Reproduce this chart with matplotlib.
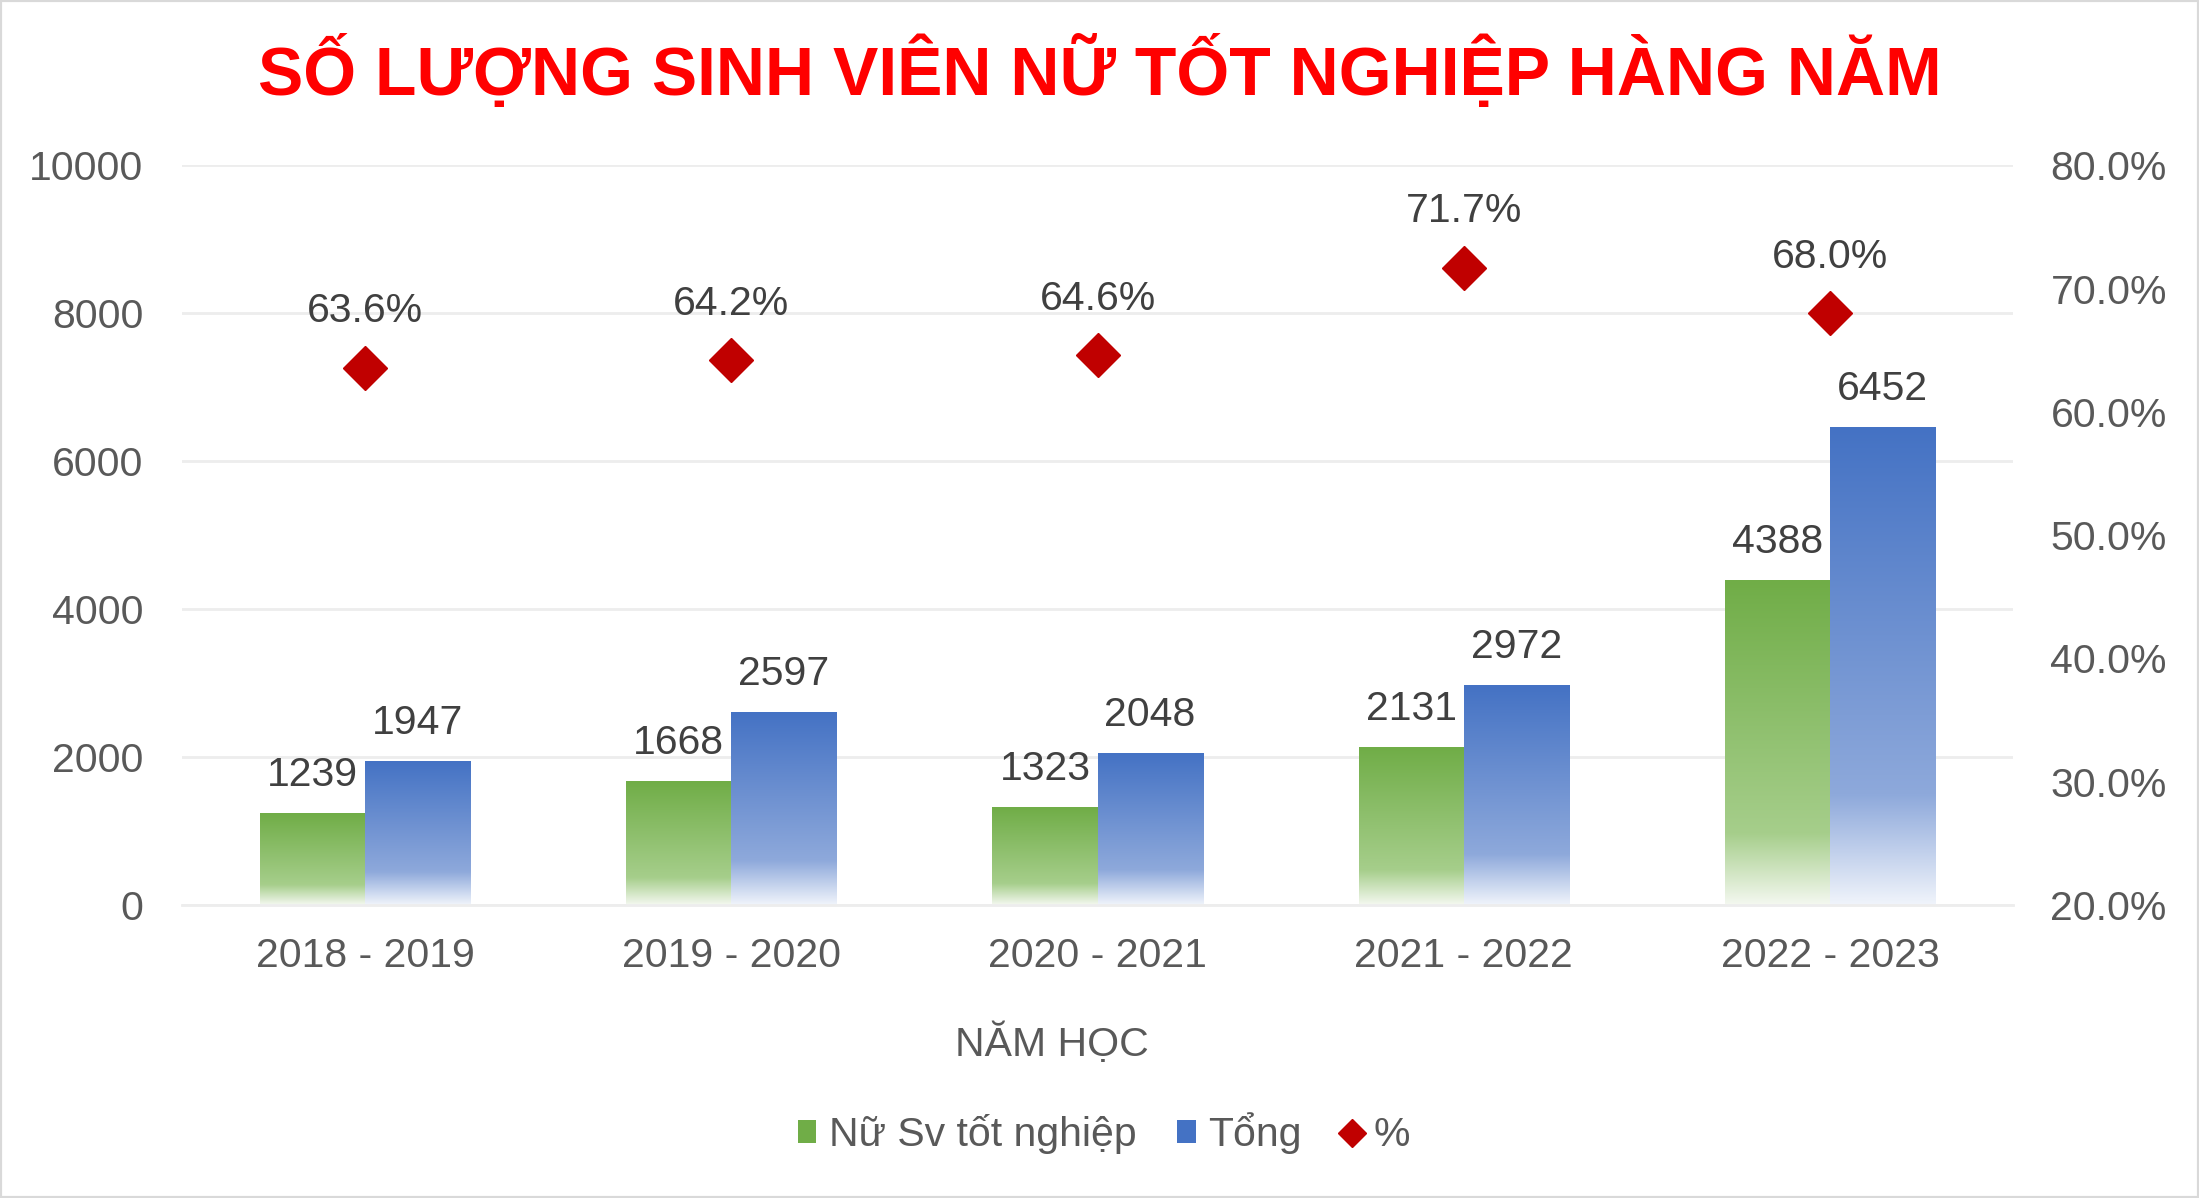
import matplotlib.pyplot as plt
import numpy as np
from matplotlib.colors import LinearSegmentedColormap
from matplotlib.lines import Line2D
from matplotlib.patches import Patch

plt.rcParams['font.family'] = ['Liberation Sans', 'DejaVu Sans']

years = ['2018 - 2019', '2019 - 2020', '2020 - 2021', '2021 - 2022', '2022 - 2023']
female = [1239, 1668, 1323, 2131, 4388]
total = [1947, 2597, 2048, 2972, 6452]
percent = [63.6, 64.2, 64.6, 71.7, 68.0]

green = '#70AD47'
blue = '#4472C4'
red = '#C00000'
tick_col = '#595959'
label_col = '#404040'

green_cmap = LinearSegmentedColormap.from_list(
    'g', [(0, '#F4F8F0'), (0.22, '#A6CE8B'), (1, green)])
blue_cmap = LinearSegmentedColormap.from_list(
    'b', [(0, '#F0F4FB'), (0.23, '#8EA9DB'), (1, blue)])
grad = np.linspace(0, 1, 256).reshape(-1, 1)

fig = plt.figure(figsize=(21.99, 11.98), dpi=100)
ax = fig.add_axes([0.0828, 0.2446, 0.8326, 0.6173])
ax2 = ax.twinx()

x = np.arange(len(years))
w = 0.287
bars_g = ax.bar(x - w / 2, female, w, color='none', edgecolor='none')
bars_b = ax.bar(x + w / 2, total, w, color='none', edgecolor='none')

# gradient fill inside each bar
for bars, cmap in [(bars_g, green_cmap), (bars_b, blue_cmap)]:
    for b in bars:
        x0, y0 = b.get_x(), b.get_y()
        ax.imshow(grad, cmap=cmap, origin='lower', aspect='auto',
                  extent=(x0, x0 + b.get_width(), y0, y0 + b.get_height()),
                  zorder=2, interpolation='bilinear')
    ax.bar_label(bars, padding=14, fontsize=29.5, color=label_col)

ax.set_xlim(-0.5, len(years) - 0.5)
ax.set_ylim(0, 10000)
ax.set_yticks(np.arange(0, 10001, 2000))
ax.set_xticks(x)
ax.set_xticklabels(years)
ax.grid(axis='y', color='#EDEDED', linewidth=2, zorder=0)
ax.set_axisbelow(True)
for s in ['top', 'right', 'left']:
    ax.spines[s].set_visible(False)
ax.spines['bottom'].set_color('#EDEDED')
ax.spines['bottom'].set_linewidth(2)
ax.tick_params(axis='both', length=0, labelsize=29.5, colors=tick_col)
ax.tick_params(axis='y', pad=28)
ax.tick_params(axis='x', pad=23)
ax.set_xlabel('NĂM HỌC', fontsize=29.5, color=tick_col)
ax.xaxis.set_label_coords(0.4748, -0.159)

ax2.plot(x, percent, linestyle='none', marker='D', markersize=22,
         color=red, zorder=5)
for xi, p in zip(x, percent):
    ax2.annotate(f'{p:.1f}%', (xi, p), xytext=(0, 27), textcoords='offset points',
                 ha='center', va='bottom', fontsize=29.5, color=label_col)
ax2.set_ylim(20, 80)
ax2.set_yticks(np.arange(20, 81, 10))
ax2.set_yticklabels([f'{v:.1f}%' for v in np.arange(20, 81, 10)])
for s in ax2.spines.values():
    s.set_visible(False)
ax2.tick_params(axis='y', length=0, labelsize=29.5, colors=tick_col, pad=27)

fig.suptitle('SỐ LƯỢNG SINH VIÊN NỮ TỐT NGHIỆP HÀNG NĂM', x=0.5, y=0.971,
             fontsize=49, fontweight='bold', color='#FF0000')

handles = [Patch(facecolor=green, edgecolor='none'),
           Patch(facecolor=blue, edgecolor='none'),
           Line2D([], [], linestyle='none', marker='D', markersize=14, color=red)]
fig.legend(handles, ['Nữ Sv tốt nghiệp', 'Tổng', '%'], loc='center',
           bbox_to_anchor=(0.502, 0.054), ncol=3, frameon=False, fontsize=29.5,
           labelcolor=tick_col, handlelength=0.45, handleheight=0.5,
           handletextpad=0.3, columnspacing=1.0)

fig.patches.append(plt.Rectangle((0, 0), 1, 1, transform=fig.transFigure,
                                 fill=False, edgecolor='#D9D9D9', linewidth=3))

fig.savefig('out.png', dpi=100)
